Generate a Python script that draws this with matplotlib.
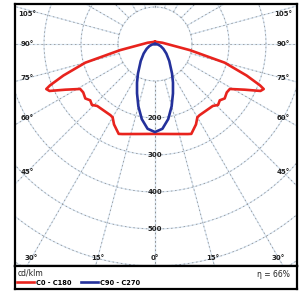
#%% polar light distribution (cd/klm), C0-C180 and C90-C270 planes
import numpy as np
import matplotlib
matplotlib.use("Agg")
import matplotlib.pyplot as plt

# angles from nadir (deg) and intensities (cd/klm)
red_gamma = [0, 10, 20, 22, 27, 30, 32, 43, 46, 49, 52, 56, 59, 63, 66, 67.5, 68.5, 71, 75, 80, 100, 180]
red_cd = [243, 247, 259, 262, 244, 229, 227, 229, 237, 232, 239, 234, 236, 272, 312, 318, 305, 262, 195, 96, 20, 6]

blue_gamma = [0, 5, 10, 15, 20, 25, 30, 40, 50, 60, 70, 80, 90]
blue_cd = [238, 230, 206, 174, 142, 115, 92, 60, 40, 26, 16, 8, 0]

rings = [100, 200, 300, 400, 500, 600, 700]
ring_labels = [200, 300, 400, 500]
spokes = np.arange(0, 181, 15)
angle_labels = [0, 15, 30, 45, 60, 75, 90, 105]
series_names = ["C0 - C180", "C90 - C270"]
eta = "η = 66%"

RED = "#e8231d"
BLUE = "#24319b"


def to_xy(gamma, cd, side=1):
    g = np.radians(np.asarray(gamma, dtype=float))
    r = np.asarray(cd, dtype=float)
    return side * r * np.sin(g), -r * np.cos(g)


def closed_curve(gamma, cd):
    xr, yr = to_xy(gamma, cd, 1)
    xl, yl = to_xy(gamma, cd, -1)
    return np.r_[xl[::-1], xr], np.r_[yl[::-1], yr]


fig = plt.figure(figsize=(2.99, 2.91), dpi=100)
W, H = 299.0, 291.0
ax = fig.add_axes([15 / W, 1 - 266 / H, 282 / W, 262 / H])
lax = fig.add_axes([15 / W, 1 - 289 / H, 282 / W, 23 / H])

px = 0.37  # pixels per cd/klm
ax.set_xlim((15 - 155) / px, (297 - 155) / px)
ax.set_ylim((44 - 266) / px, (44 - 4) / px)

# grid: faint blue solid + grey dashed
t = np.linspace(0, 2 * np.pi, 400)
for r in rings:
    ax.plot(r * np.cos(t), r * np.sin(t), color="#dbe8f5", lw=0.9, zorder=1)
    ax.plot(r * np.cos(t), r * np.sin(t), color="#8e8e8e", lw=0.55,
            ls=(0, (2, 3.5)), zorder=2)
for g in spokes:
    for side in (1, -1):
        x, y = to_xy([g, g], [100, 900], side)
        ax.plot(x, y, color="#dbe8f5", lw=0.9, zorder=1)
        ax.plot(x, y, color="#8e8e8e", lw=0.55, ls=(0, (2, 3.5)), zorder=2)

# curves
xr, yr = closed_curve(red_gamma, red_cd)
red_line, = ax.plot(xr, yr, color=RED, lw=1.9, zorder=4, solid_joinstyle="round")
xb, yb = closed_curve(blue_gamma, blue_cd)
blue_line, = ax.plot(xb, yb, color=BLUE, lw=1.9, zorder=5, solid_joinstyle="round")

# intensity labels on the vertical axis
for r in ring_labels:
    ax.text(0, -r, str(r), ha="center", va="center", fontsize=5,
            fontweight="bold", color="#222222", zorder=6)

# angle labels where the spokes reach an inset of the frame
xin = 128 / px
ybot = -214 / px
ytop = 30 / px
for g in angle_labels:
    gr = np.radians(g)
    if g < 40:
        y = ybot
        x = -ybot * np.tan(gr)
    else:
        x = xin
        y = min(-xin / np.tan(gr), ytop)
    for side in ((1, -1) if g else (1,)):
        ax.text(side * x, y, f"{g}°", ha="center", va="center", fontsize=5,
                fontweight="bold", color="#222222", zorder=6)

for a in (ax, lax):
    a.set_xticks([])
    a.set_yticks([])
    for s in a.spines.values():
        s.set_linewidth(1.6)
        s.set_color("black")

# legend strip
lax.text(0.01, 0.88, "cd/klm", transform=lax.transAxes, ha="left", va="top",
         fontsize=5.5, color="#222222")
lax.text(0.975, 0.62, eta, transform=lax.transAxes, ha="right", va="center",
         fontsize=5.5, color="#222222")
lax.legend([red_line, blue_line], series_names, ncol=2, loc="lower left",
           bbox_to_anchor=(-0.015, -0.12), frameon=False, handlelength=2.6,
           handletextpad=0.3, columnspacing=1.4,
           prop={"size": 4.8, "weight": "bold"})

fig.savefig("out.png", dpi=100)
